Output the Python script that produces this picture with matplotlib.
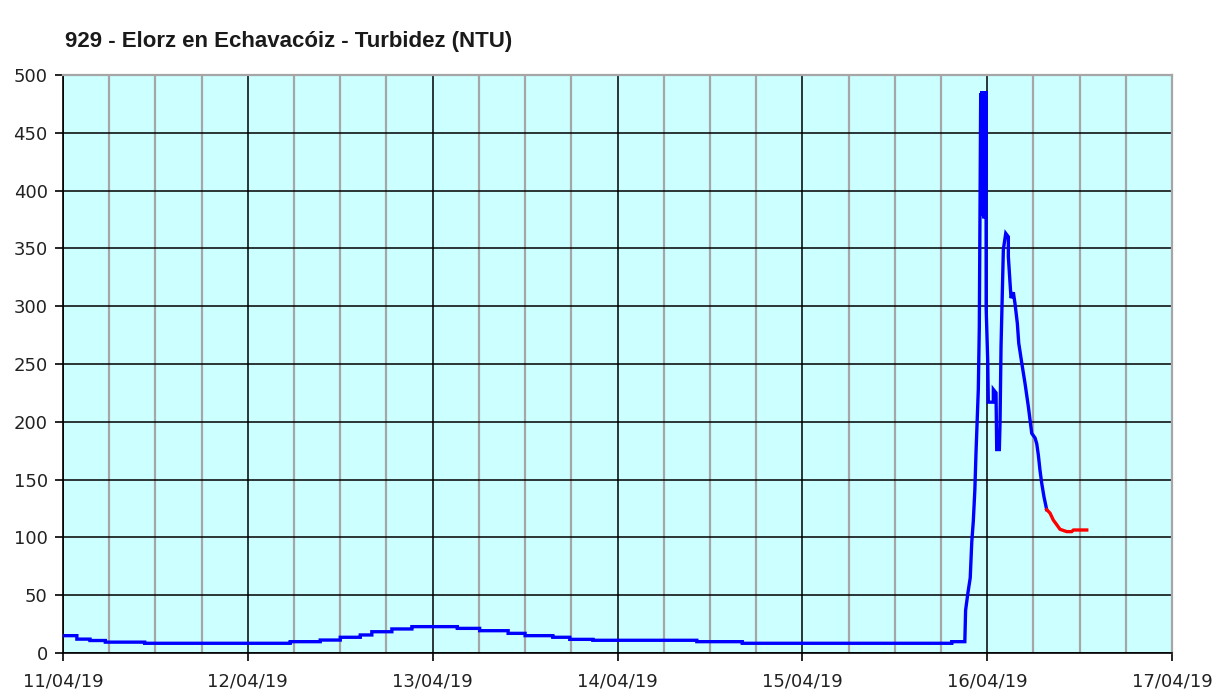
import matplotlib
matplotlib.use("Agg")
import matplotlib.pyplot as plt
from matplotlib.ticker import MultipleLocator

title = "929 - Elorz en Echavacóiz - Turbidez (NTU)"
x_tick_labels = ["11/04/19", "12/04/19", "13/04/19", "14/04/19", "15/04/19", "16/04/19", "17/04/19"]
y_ticks = [0, 50, 100, 150, 200, 250, 300, 350, 400, 450, 500]

# hours since 11/04/19 00:00
blue_hours = [0, 1.8, 1.8, 3.5, 3.5, 5.5, 5.5, 10.6, 10.6, 29.5, 29.5, 33.4, 33.4,
              36.0, 36.0, 38.6, 38.6, 40.1, 40.1, 42.7, 42.7, 45.3, 45.3, 51.2, 51.2,
              54.1, 54.1, 57.8, 57.8, 60.0, 60.0, 63.6, 63.6, 65.8, 65.8, 68.8, 68.8,
              82.3, 82.3, 88.2, 88.2, 115.4, 115.4, 117.1,
              117.2, 117.5, 117.8, 118.0, 118.2, 118.4, 118.55, 118.85, 118.98,
              119.16, 119.25, 119.33, 119.42, 119.50, 119.58, 119.67, 119.75, 119.85,
              119.87, 120.07, 120.15, 120.80, 120.80, 121.15, 121.24, 121.58, 121.67,
              121.80, 122.10, 122.41, 122.75, 122.75, 122.97, 123.10, 123.40, 123.62,
              123.92, 124.10, 124.49, 124.92, 125.35, 125.79, 126.22, 126.44, 126.65,
              126.86, 127.08, 127.38, 127.73]
blue_values = [15, 15, 12, 12, 10.8, 10.8, 9.4, 9.4, 8.4, 8.4, 9.8, 9.8, 11.2,
               11.2, 13.6, 13.6, 15.6, 15.6, 18.4, 18.4, 20.8, 20.8, 22.8, 22.8, 21.3,
               21.3, 19.3, 19.3, 17.0, 17.0, 15.0, 15.0, 13.6, 13.6, 11.8, 11.8, 11.0,
               11.0, 9.8, 9.8, 8.4, 8.4, 9.8, 9.8,
               37, 52, 65, 96, 114, 141, 173, 228, 282,
               484, 380, 486, 378, 485, 376, 484, 380, 486,
               298, 253, 217, 217, 228, 225, 176, 176, 199,
               265, 349, 363, 360, 343, 320, 307, 312, 302,
               285, 268, 251, 233, 213, 190, 186, 181, 171,
               158, 147, 135, 124]

red_hours = [127.73, 128.16, 128.59, 129.03, 129.46, 130.33, 130.98, 131.19, 132.93]
red_values = [124, 121, 115, 111, 107, 105, 105, 106.4, 106.4]

W, H = 1219, 691
fig = plt.figure(figsize=(W / 100, H / 100), dpi=100)
fig.patch.set_facecolor("white")
ax = fig.add_axes([63 / W, (H - 653) / H, (1172 - 63) / W, (653 - 75) / H])
ax.set_facecolor("#CCFFFF")

ax.set_xlim(0, 144)
ax.set_ylim(0, 500)
ax.xaxis.set_major_locator(MultipleLocator(24))
ax.xaxis.set_minor_locator(MultipleLocator(6))
ax.set_xticks([i * 24 for i in range(len(x_tick_labels))])
ax.set_xticklabels(x_tick_labels)
ax.set_yticks(y_ticks)

ax.grid(which="minor", axis="x", color="#A6A6A6", lw=1.6, zorder=0)
ax.grid(which="major", axis="x", color="black", lw=1.1, zorder=0)
ax.grid(which="major", axis="y", color="black", lw=1.1, zorder=0)
ax.set_axisbelow(True)

ax.plot(blue_hours, blue_values, color="#0000FF", lw=2.4, solid_joinstyle="miter", zorder=3)
ax.plot(red_hours, red_values, color="#FF0000", lw=2.4, zorder=3)

for side in ["top", "right"]:
    ax.spines[side].set_color("#A6A6A6")
    ax.spines[side].set_linewidth(1.6)
for side in ["left", "bottom"]:
    ax.spines[side].set_color("black")
    ax.spines[side].set_linewidth(1.2)

ax.tick_params(axis="both", which="major", length=6, width=1.2, color="black",
               labelsize=13, labelcolor="#222222")
ax.tick_params(axis="x", which="major", pad=8)
ax.tick_params(axis="y", which="major", pad=5)
ax.tick_params(axis="x", which="minor", length=0)
for lab in ax.get_xticklabels() + ax.get_yticklabels():
    lab.set_family("DejaVu Sans")

fig.text(65 / W, 1 - 42 / H, title, fontsize=16, fontweight="bold",
         family="Liberation Sans", color="#1a1a1a", va="center", ha="left")

fig.savefig("out.png", dpi=100)
